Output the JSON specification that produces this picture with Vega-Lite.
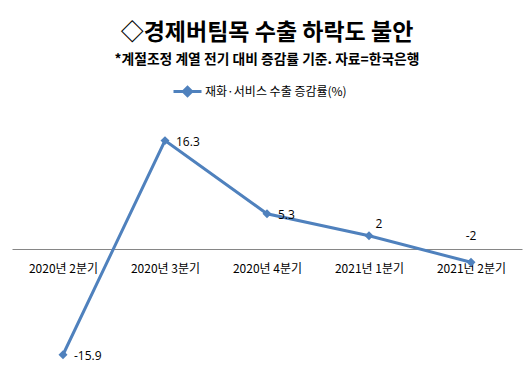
{
  "$schema": "https://vega.github.io/schema/vega-lite/v6.json",
  "width": 510,
  "height": 266,
  "autosize": {"type": "none"},
  "padding": {"left": 12, "right": 10, "top": 116, "bottom": 8},
  "background": "white",
  "title": {
    "text": "◇경제버팀목 수출 하락도 불안",
    "subtitle": "*계절조정 계열 전기 대비 증감률 기준. 자료=한국은행",
    "font": "Noto Sans CJK KR",
    "fontSize": 23,
    "fontWeight": "bold",
    "color": "#000000",
    "subtitleFont": "Noto Sans CJK KR",
    "subtitleFontSize": 13.8,
    "subtitleFontWeight": "bold",
    "subtitleColor": "#000000",
    "subtitlePadding": 8,
    "anchor": "middle",
    "offset": 9
  },
  "config": {
    "view": {"stroke": null},
    "font": "Noto Sans CJK KR"
  },
  "data": {
    "values": [
      {"quarter": "2020년 2분기", "value": -15.9, "series": "재화·서비스 수출 증감률(%)"},
      {"quarter": "2020년 3분기", "value": 16.3, "series": "재화·서비스 수출 증감률(%)"},
      {"quarter": "2020년 4분기", "value": 5.3, "series": "재화·서비스 수출 증감률(%)"},
      {"quarter": "2021년 1분기", "value": 2, "series": "재화·서비스 수출 증감률(%)"},
      {"quarter": "2021년 2분기", "value": -2, "series": "재화·서비스 수출 증감률(%)"}
    ]
  },
  "encoding": {
    "x": {
      "field": "quarter",
      "type": "ordinal",
      "sort": null,
      "axis": {
        "title": null,
        "offset": -133,
        "ticks": false,
        "labelAngle": 0,
        "labelPadding": 14,
        "labelFont": "Noto Sans CJK KR",
        "labelFontSize": 12,
        "labelColor": "#000000",
        "domainColor": "#868686",
        "domainWidth": 1,
        "grid": false
      }
    },
    "y": {
      "field": "value",
      "type": "quantitative",
      "scale": {"domain": [-20, 20], "nice": false, "zero": false},
      "axis": null
    }
  },
  "layer": [
    {
      "mark": {"type": "line", "strokeWidth": 3},
      "encoding": {
        "color": {
          "field": "series",
          "type": "nominal",
          "scale": {"range": ["#4F81BD"]},
          "legend": {
            "orient": "none",
            "legendX": 160,
            "legendY": -40,
            "title": null,
            "symbolType": "M-1,0H1M0,-0.3L0.3,0L0,0.3L-0.3,0Z",
            "symbolSize": 784,
            "symbolStrokeWidth": 3,
            "symbolStrokeColor": "#4F81BD",
            "symbolFillColor": "#4F81BD",
            "labelFont": "Noto Sans CJK KR",
            "labelFontSize": 12,
            "labelColor": "#000000",
            "labelOffset": 2
          }
        }
      }
    },
    {
      "mark": {"type": "point", "shape": "diamond", "filled": true, "size": 80, "opacity": 1},
      "encoding": {
        "color": {"field": "series", "type": "nominal", "legend": null}
      }
    },
    {
      "transform": [{"filter": "datum.value > 5 || datum.value < -10"}],
      "mark": {"type": "text", "align": "left", "baseline": "middle", "dx": 11, "dy": 1, "fontSize": 12, "font": "Open Sans", "color": "#000000"},
      "encoding": {"text": {"field": "value", "type": "nominal"}}
    },
    {
      "transform": [{"filter": "datum.value == 2"}],
      "mark": {"type": "text", "align": "center", "baseline": "middle", "dx": 10, "dy": -12, "fontSize": 12, "font": "Open Sans", "color": "#000000"},
      "encoding": {"text": {"field": "value", "type": "nominal"}}
    },
    {
      "transform": [{"filter": "datum.value == -2"}],
      "mark": {"type": "text", "align": "center", "baseline": "middle", "dx": 0, "dy": -26, "fontSize": 12, "font": "Open Sans", "color": "#000000"},
      "encoding": {"text": {"field": "value", "type": "nominal"}}
    }
  ]
}
